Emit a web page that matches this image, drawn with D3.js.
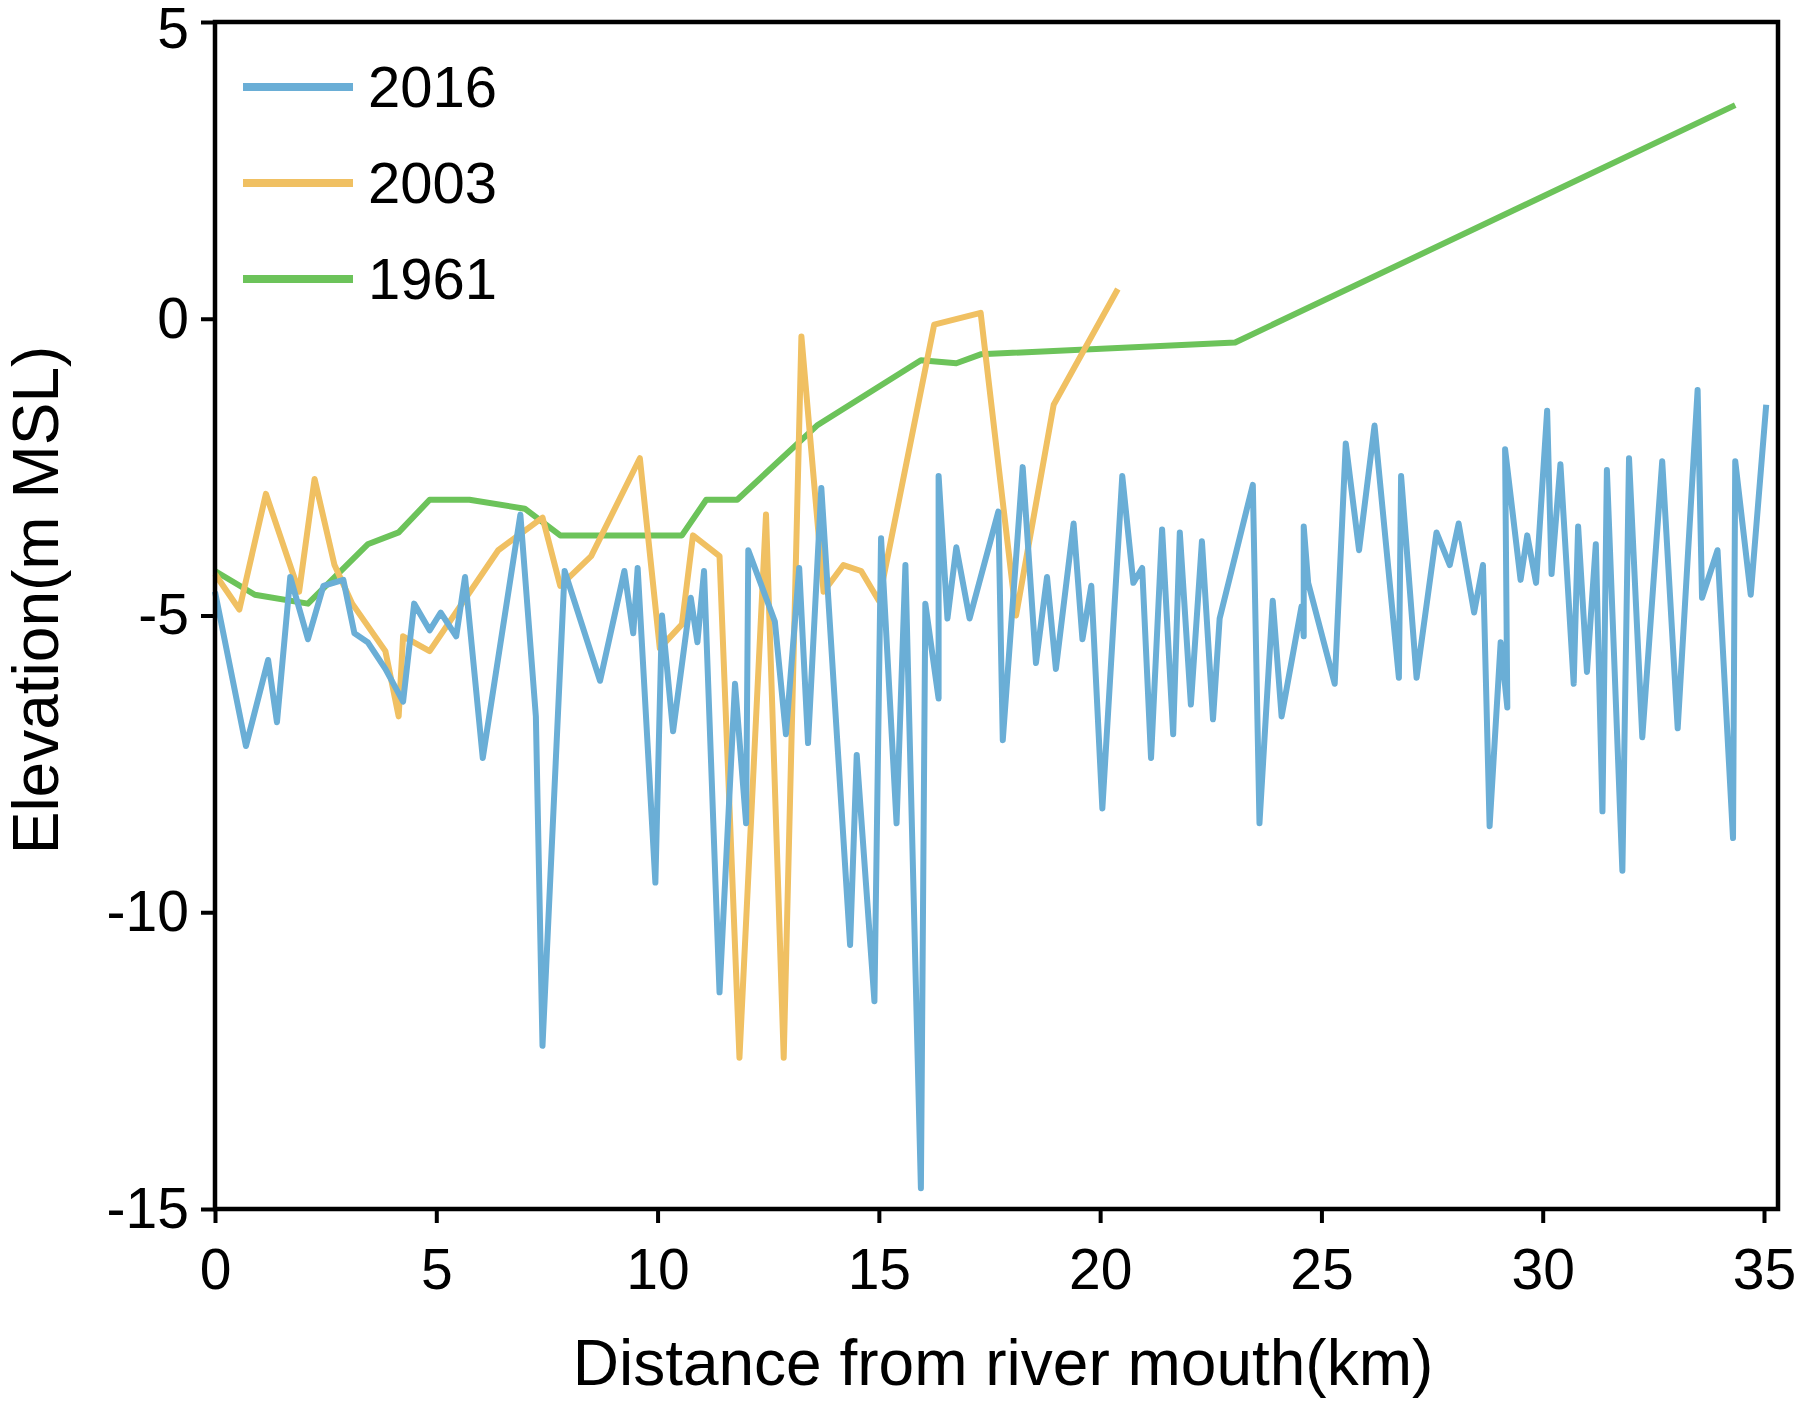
<!DOCTYPE html><html><head><meta charset="utf-8">
<script src="https://cdn.jsdelivr.net/npm/d3@7"></script>
<style>body{margin:0;background:#fff}</style></head><body>
<svg id="c" width="1814" height="1404"></svg>
<script>
const series2016X=[0,0.7,1.2,1.4,1.7,2.1,2.45,2.9,3.15,3.45,3.85,4.25,4.5,4.85,5.1,5.45,5.65,6.05,6.9,7.25,7.4,7.9,8.7,9.25,9.45,9.55,9.95,10.1,10.35,10.75,10.9,11.05,11.4,11.75,12.0,12.05,12.65,12.9,13.2,13.4,13.7,14.35,14.5,14.9,15.05,15.4,15.6,15.95,16.05,16.35,16.35,16.55,16.75,17.05,17.7,17.8,18.25,18.55,18.8,19.0,19.4,19.6,19.8,20.05,20.5,20.75,20.95,21.15,21.4,21.65,21.8,22.05,22.3,22.55,22.7,23.45,23.6,23.9,24.1,24.55,24.6,24.6,24.7,25.3,25.55,25.85,26.2,26.75,26.8,27.15,27.6,27.9,28.1,28.45,28.65,28.8,29.05,29.2,29.15,29.5,29.65,29.85,30.1,30.2,30.4,30.7,30.8,31.0,31.2,31.35,31.45,31.8,31.95,32.25,32.7,33.05,33.5,33.6,33.95,34.3,34.35,34.7,35.05];
const series2016Y=[-4.6,-7.2,-5.75,-6.8,-4.35,-5.4,-4.5,-4.4,-5.3,-5.45,-5.9,-6.45,-4.8,-5.25,-4.95,-5.35,-4.35,-7.4,-3.3,-6.7,-12.25,-4.25,-6.1,-4.25,-5.3,-4.2,-9.5,-5.0,-6.95,-4.7,-5.45,-4.25,-11.35,-6.15,-8.5,-3.9,-5.1,-7.0,-4.2,-7.15,-2.85,-10.55,-7.35,-11.5,-3.7,-8.5,-4.15,-14.65,-4.8,-6.4,-2.65,-5.05,-3.85,-5.05,-3.25,-7.1,-2.5,-5.8,-4.35,-5.9,-3.45,-5.4,-4.5,-8.25,-2.65,-4.45,-4.2,-7.4,-3.55,-7.0,-3.6,-6.5,-3.75,-6.75,-5.05,-2.8,-8.5,-4.75,-6.7,-4.85,-5.35,-3.5,-4.45,-6.15,-2.1,-3.9,-1.8,-6.05,-2.65,-6.05,-3.6,-4.15,-3.45,-4.95,-4.15,-8.55,-5.45,-6.55,-2.2,-4.4,-3.65,-4.45,-1.55,-4.3,-2.45,-6.15,-3.5,-5.95,-3.8,-8.3,-2.55,-9.3,-2.35,-7.05,-2.4,-6.9,-1.2,-4.7,-3.9,-8.75,-2.4,-4.65,-1.45];
const series2003X=[0,0.55,1.15,1.9,2.25,2.7,3.1,3.85,4.15,4.25,4.85,6.4,7.4,7.8,8.5,9.6,10.05,10.55,10.8,11.4,11.85,12.45,12.85,13.25,13.75,14.2,14.6,15.0,16.25,17.3,18.1,18.95,20.4];
const series2003Y=[-4.3,-4.9,-2.95,-4.6,-2.7,-4.15,-4.8,-5.6,-6.7,-5.35,-5.6,-3.9,-3.35,-4.5,-4.0,-2.35,-5.55,-5.15,-3.65,-4.0,-12.45,-3.3,-12.45,-0.3,-4.6,-4.15,-4.25,-4.75,-0.1,0.1,-5.0,-1.45,0.5];
const series1961X=[0,0.9,2.1,3.45,4.15,4.85,5.75,7.0,7.8,10.55,11.1,11.8,13.6,15.95,16.75,17.3,23.05,34.35];
const series1961Y=[-4.25,-4.65,-4.8,-3.8,-3.6,-3.05,-3.05,-3.2,-3.65,-3.65,-3.05,-3.05,-1.8,-0.7,-0.75,-0.6,-0.4,3.6];
const seriesNames=["2016","2003","1961"];
const seriesColors=["#6aaed6","#f0c062","#6cc35a"];
const xTicks=[0,5,10,15,20,25,30,35];
const yTicks=[-15,-10,-5,0,5];

const svg=d3.select("#c");
const L=215,R=1778,T=22,B=1209;
const x=d3.scaleLinear().domain([0,35]).range([L,1764]);
const y=d3.scaleLinear().domain([-15,5]).range([B,T]);
const font="Arial, 'Liberation Sans', sans-serif";
const data=[[series2016X,series2016Y],[series2003X,series2003Y],[series1961X,series1961Y]];
const line=d3.line().x(d=>x(d[0])).y(d=>y(d[1]));
[2,1,0].forEach(i=>{
  const pts=data[i][0].map((v,j)=>[v,data[i][1][j]]);
  svg.append("path").attr("d",line(pts)).attr("fill","none").attr("stroke",seriesColors[i]).attr("stroke-width",6).attr("stroke-linejoin","round");
});
svg.append("rect").attr("x",L).attr("y",T).attr("width",R-L).attr("height",B-T).attr("fill","none").attr("stroke","#000").attr("stroke-width",4.5);
const gx=svg.append("g").attr("transform",`translate(0,${B})`).call(d3.axisBottom(x).tickValues(xTicks).tickSize(14).tickPadding(20));
const gy=svg.append("g").attr("transform",`translate(${L},0)`).call(d3.axisLeft(y).tickValues(yTicks).tickSize(14).tickPadding(12).tickFormat(d=>String(d).replace("−","-")));
[gx,gy].forEach(g=>{g.select(".domain").remove();g.selectAll("line").attr("stroke","#000").attr("stroke-width",4);
 g.selectAll("text").attr("font-family",font).attr("font-size",57).attr("fill","#000");});
gx.selectAll("text").attr("dy","0.8em");
gy.selectAll("text").filter(d=>d===5).attr("dy","0.45em");
svg.append("text").attr("x",1003).attr("y",1385).attr("text-anchor","middle").attr("font-family",font).attr("font-size",64).text("Distance from river mouth(km)");
svg.append("text").attr("transform",`translate(58,${600}) rotate(-90)`).attr("text-anchor","middle").attr("font-family",font).attr("font-size",64).text("Elevation(m MSL)");
seriesNames.forEach((n,i)=>{
  const ly=87+i*96;
  svg.append("line").attr("x1",243).attr("x2",353).attr("y1",ly).attr("y2",ly).attr("stroke",seriesColors[i]).attr("stroke-width",8);
  svg.append("text").attr("x",368).attr("y",ly).attr("dy","0.35em").attr("font-family",font).attr("font-size",58).text(n);
});
</script></body></html>
